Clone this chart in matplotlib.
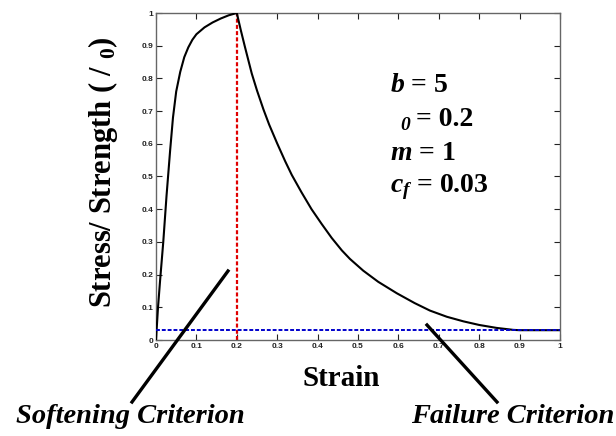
import matplotlib
matplotlib.use("Agg")
import matplotlib.pyplot as plt
from matplotlib.lines import Line2D

# Curva esfuerzo-deformacion
strain = [0, 0.005, 0.01, 0.018, 0.026, 0.035, 0.042, 0.05, 0.06, 0.07, 0.08,
          0.09, 0.10, 0.12, 0.14, 0.16, 0.18, 0.20,
          0.21, 0.22, 0.237, 0.25, 0.266, 0.28, 0.30, 0.32, 0.336, 0.36, 0.385,
          0.41, 0.435, 0.46, 0.48, 0.513, 0.55, 0.596, 0.64, 0.678, 0.72, 0.761,
          0.80, 0.843, 0.884, 0.90, 1.0]
stress = [0, 0.10, 0.18, 0.30, 0.44, 0.58, 0.68, 0.76, 0.82, 0.865, 0.895,
          0.918, 0.935, 0.956, 0.971, 0.983, 0.993, 1.0,
          0.947, 0.897, 0.815, 0.763, 0.705, 0.659, 0.601, 0.546, 0.505, 0.452, 0.40,
          0.355, 0.312, 0.274, 0.248, 0.212, 0.178, 0.143, 0.113, 0.090, 0.071,
          0.057, 0.046, 0.037, 0.031, 0.03, 0.03]

strain_softening = 0.2
cf = 0.03
ticks = [0, 0.1, 0.2, 0.3, 0.4, 0.5, 0.6, 0.7, 0.8, 0.9, 1]
tick_labels = ["0", "0.1", "0.2", "0.3", "0.4", "0.5", "0.6", "0.7", "0.8", "0.9", "1"]

plt.rcParams['mathtext.fontset'] = 'custom'
plt.rcParams['mathtext.rm'] = 'Liberation Serif:bold'
plt.rcParams['mathtext.it'] = 'Liberation Serif:italic:bold'
plt.rcParams['mathtext.bf'] = 'Liberation Serif:bold'

W, H = 616, 436
fig = plt.figure(figsize=(W / 100, H / 100), dpi=100)
fig.patch.set_facecolor('white')
ax = fig.add_axes([156 / W, 1 - 340 / H, (560 - 156) / W, (340 - 13) / H])

# Curva principal
ax.plot(strain, stress, color='black', linewidth=1.5, zorder=3,
        solid_joinstyle='round')
# Criterios
ax.plot([strain_softening, strain_softening], [0, 1], color='#e00000', linestyle='--',
        linewidth=1.6, dashes=(1.8, 1.0), zorder=2)
ax.plot([0, 1], [cf, cf], color='#0000cc', linestyle='--', linewidth=1.4,
        dashes=(2, 1.0), zorder=4)

ax.set_xlim(0, 1)
ax.set_ylim(0, 1)
ax.set_xticks(ticks)
ax.set_yticks(ticks)
ax.set_xticklabels(tick_labels)
ax.set_yticklabels(tick_labels)
ax.tick_params(direction='in', length=4, width=0.8, top=True, right=True,
               labelsize=6, colors='#222222', pad=2)
for lbl in ax.get_xticklabels() + ax.get_yticklabels():
    lbl.set_fontweight('bold')
    lbl.set_family('Liberation Sans')
for s in ax.spines.values():
    s.set_color('#666666')
    s.set_linewidth(1.0)

serif = 'Liberation Serif'
fig.text(103 / W, 1 - 172 / H, r"Stress/ Strength ( / $_0$)", rotation=90,
         fontsize=22, fontweight='bold', family=serif, ha='center', va='center')
fig.text(341 / W, 1 - 378 / H, "Strain", fontsize=21, fontweight='bold',
         family=serif, ha='center', va='center')

# Parametros
fig.text(390 / W, 1 - 85 / H, r"$b$ = 5", fontsize=20, fontweight='bold',
         family=serif, ha='left', va='center')
fig.text(400 / W, 1 - 126 / H, "0", fontsize=14, fontweight='bold',
         style='italic', family=serif, ha='left', va='center')
fig.text(416 / W, 1 - 120 / H, "= 0.2", fontsize=20, fontweight='bold',
         family=serif, ha='left', va='center')
fig.text(390 / W, 1 - 153 / H, r"$m$ = 1", fontsize=20, fontweight='bold',
         family=serif, ha='left', va='center')
fig.text(390 / W, 1 - 187 / H, r"$c_f$ = 0.03", fontsize=20, fontweight='bold',
         family=serif, ha='left', va='center')

# Flechas de criterios
fig.add_artist(Line2D([132 / W, 228 / W], [1 - 402 / H, 1 - 271 / H],
                      color='black', linewidth=2.4))
fig.add_artist(Line2D([427 / W, 497 / W], [1 - 325 / H, 1 - 402 / H],
                      color='black', linewidth=2.4))
fig.text(130 / W, 1 - 416 / H, "Softening Criterion", fontsize=20.5,
         fontweight='bold', style='italic', family=serif, ha='center', va='center')
fig.text(614 / W, 1 - 416 / H, "Failure Criterion", fontsize=20.5,
         fontweight='bold', style='italic', family=serif, ha='right', va='center')

fig.savefig("out.png", dpi=100)
plt.close(fig)
